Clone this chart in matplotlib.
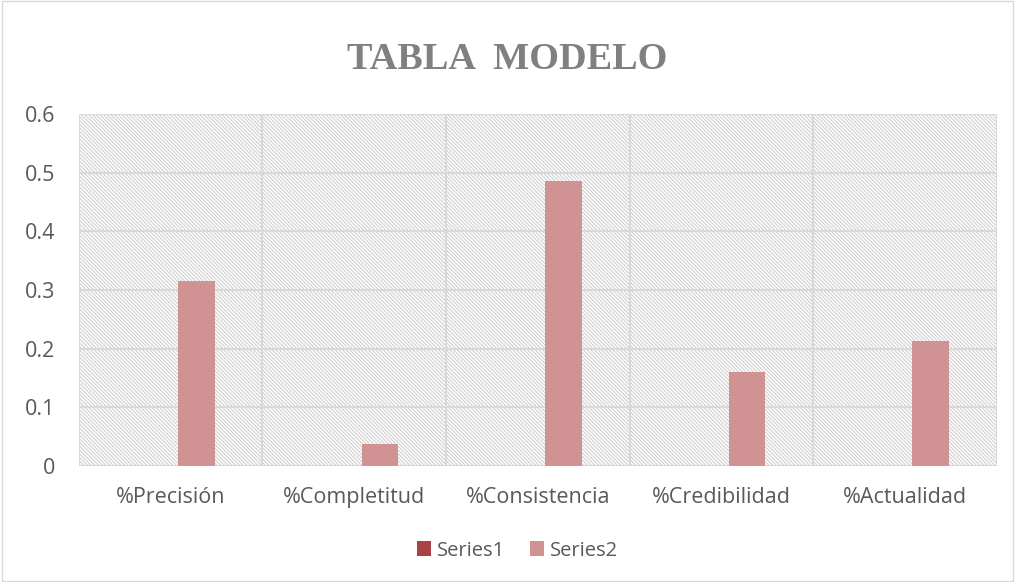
import matplotlib.pyplot as plt
import numpy as np

# Dades
categories = ["%Precisión", "%Completitud", "%Consistencia", "%Credibilidad", "%Actualidad"]
series1 = [0, 0, 0, 0, 0]
series2 = [0.315, 0.038, 0.486, 0.161, 0.213]
yticks = [0, 0.1, 0.2, 0.3, 0.4, 0.5, 0.6]
ytick_labels = ["0", "0.1", "0.2", "0.3", "0.4", "0.5", "0.6"]

plt.rcParams["font.family"] = ["Open Sans", "DejaVu Sans"]
plt.rcParams["hatch.linewidth"] = 0.8

fig = plt.figure(figsize=(10.15, 5.82), dpi=100)
ax = fig.add_axes([0.0778, 0.199, 0.904, 0.605])

x = np.arange(len(categories))
w = 0.2
ax.bar(x - 0.14, series1, width=w, color="#A94343", label="Series1", zorder=3)
ax.bar(x + 0.14, series2, width=w, color="#D09292", label="Series2", zorder=3)

# Fons ratllat
ax.patch.set_facecolor("white")
ax.patch.set_hatch("\\" * 9)
ax.patch.set_edgecolor("#d0d0d0")

ax.set_xlim(-0.5, len(categories) - 0.5)
ax.set_ylim(0, 0.6)
ax.set_yticks(yticks)
ax.set_yticklabels(ytick_labels)
ax.set_xticks(x)
ax.set_xticklabels(categories)
ax.tick_params(axis="both", length=0, colors="#595959", labelsize=15.5)
ax.tick_params(axis="y", pad=17)
ax.tick_params(axis="x", pad=15)

# Graella
for yv in yticks:
    ax.axhline(yv, color="#d9d9d9", lw=1.5, zorder=1)
for xv in np.arange(-0.5, len(categories), 1):
    ax.axvline(xv, color="#d9d9d9", lw=1.5, zorder=1)
for s in ax.spines.values():
    s.set_visible(False)

fig.text(0.5, 0.897, "TABLA  MODELO", ha="center", va="center",
         fontsize=27.5, fontweight="bold", color="#808080", family="Liberation Serif")

ax.legend(loc="center", bbox_to_anchor=(0.51, 0.054), bbox_transform=fig.transFigure,
          ncol=2, frameon=False, fontsize=14.5, handlelength=0.7, handleheight=0.7,
          handletextpad=0.3, columnspacing=1.2, labelcolor="#595959")

# Vora de la figura
fig.patches.append(plt.Rectangle((0.002, 0.002), 0.996, 0.996, transform=fig.transFigure,
                                 fill=False, edgecolor="#d9d9d9", lw=1))

plt.savefig("out.png", dpi=100)
